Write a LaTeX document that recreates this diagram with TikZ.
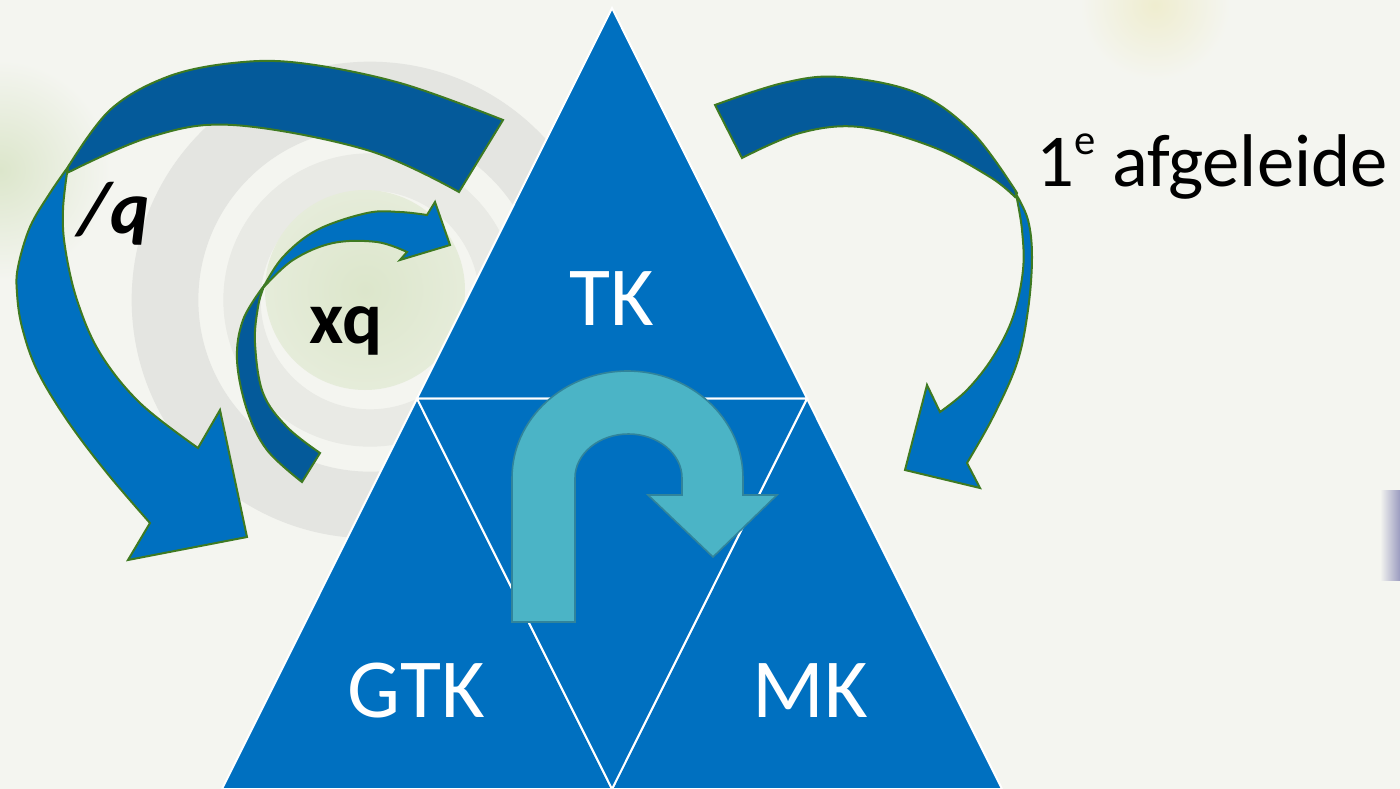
\documentclass[tikz,border=0pt]{standalone}
\usepackage{fontspec}
\setmainfont{Carlito}
\definecolor{bgc}{HTML}{F4F5F0}
\definecolor{triblue}{HTML}{0070C0}
\definecolor{darkband}{HTML}{045A9A}
\definecolor{outl}{HTML}{3E7A22}
\definecolor{uturn}{HTML}{4BB4C6}
\definecolor{uturnline}{HTML}{31849B}
\definecolor{palegreen}{HTML}{DCE6CB}
\definecolor{paleyellow}{HTML}{EFEDCF}
\definecolor{ringgrey}{HTML}{E4E5E1}
\begin{document}
\begin{tikzpicture}[x=0.75pt,y=-0.75pt,
  bandfront/.style={fill=triblue,draw=outl,line width=1.5pt,line join=miter},
  bandback/.style={fill=darkband,draw=outl,line width=1.5pt,line join=miter},
  tripart/.style={fill=triblue,draw=white,line width=1.5pt},
  lbl/.style={inner sep=0pt,anchor=base,text=white,font=\fontsize{63}{63}\selectfont},
  mathlbl/.style={inner sep=0pt,anchor=base west,text=black,font=\bfseries\fontsize{56}{56}\selectfont}]
% background
\fill[bgc] (0,0) rectangle (1400,789);
\useasboundingbox (0,0) rectangle (1400,789);
\shade[inner color=palegreen,outer color=bgc] (0,170) circle[radius=110];
\shade[inner color=paleyellow,outer color=bgc] (1155,5) circle[radius=75];
\draw[line width=50pt,ringgrey] (370,300) circle[radius=205];
\draw[line width=28pt,ringgrey!70!bgc] (370,300) circle[radius=128];
\shade[inner color=palegreen,outer color=palegreen!60!bgc] (365,290) circle[radius=100];
\shade[left color=bgc,right color=blue!25!gray!60!bgc] (1380,490) rectangle (1400,580);
% triangle
\coordinate (A) at (612,8);
\coordinate (B) at (222,789);
\coordinate (C) at (1002,789);
\coordinate (AB) at (417,398.5);
\coordinate (AC) at (807,398.5);
\coordinate (BC) at (612,789);
\filldraw[tripart] (A) -- (AB) -- (AC) -- cycle;
\filldraw[tripart] (AB) -- (B) -- (BC) -- cycle;
\filldraw[tripart] (AC) -- (BC) -- (C) -- cycle;
\filldraw[tripart] (AB) -- (AC) -- (BC) -- cycle;
\node[lbl] (tk) at (612,325) {TK};
\node[lbl] (gtk) at (416,717) {GTK};
\node[lbl] (mk) at (810,717) {MK};
% U-turn arrow
\filldraw[fill=uturn,draw=uturnline,line width=1.2pt] (512,622) -- (512,478)
  .. controls (512,418.9) and (563.7,371) .. (627.5,371)
  .. controls (691.3,371) and (743,418.9) .. (743,478)
  -- (743,495) -- (777,495) -- (713,557) -- (648,495) -- (682,495) -- (682,478)
  .. controls (682,453.7) and (658,434) .. (628.5,434)
  .. controls (599,434) and (575,453.7) .. (575,478)
  -- (575,622) -- cycle;
% /q arrow
\filldraw[bandback] plot[smooth,tension=0.6] coordinates {(68,167) (110,110) (167,77) (233,63) (300,63) (400,83) (503,120)}
  -- plot[smooth,tension=0.6] coordinates {(459,192) (367,150) (233,125) (150,137) (67,173)} -- cycle;
\filldraw[bandfront] plot[smooth,tension=0.6] coordinates {(68,167) (50,193) (30,227) (18,267) (17,293) (22,327) (37,370) (67,420) (107,473) (150,523)}
  -- (128,560) -- (247,537) -- (220,410) -- (198,448)
  -- plot[smooth,tension=0.6] coordinates {(198,448) (140,403) (100,353) (77,300) (65,247) (63,210) (67,173)} -- cycle;
% xq arrow
\filldraw[bandback] plot[smooth,tension=0.6] coordinates {(302,482) (267,450) (247,410) (237,360) (243,320) (263,287)}
  -- plot[smooth,tension=0.6] coordinates {(263,289) (258,307) (255,343) (263,393) (287,427) (320,453)} -- cycle;
\filldraw[bandfront] plot[smooth,tension=0.6] coordinates {(263,288) (283,257) (317,230) (367,213) (400,212) (427,215)}
  -- (435,202) -- (450,245) -- (400,260) -- (407,252)
  -- plot[smooth,tension=0.6] coordinates {(407,252) (377,242) (333,243) (293,260) (263,288)} -- cycle;
% right arrow
\filldraw[bandback] plot[smooth,tension=0.6] coordinates {(715,105) (783,83) (840,77) (917,93) (973,133) (1017,193)}
  -- plot[smooth,tension=0.6] coordinates {(1015,197) (990,177) (933,147) (860,127) (800,133) (742,158)} -- cycle;
\filldraw[bandfront] plot[smooth,tension=0.6] coordinates {(1016,194) (1028,220) (1032,257) (1028,310) (1017,363) (993,417) (967,463)}
  -- (980,488) -- (905,470) -- (927,385) -- (940,412)
  -- plot[smooth,tension=0.6] coordinates {(940,412) (967,390) (993,357) (1013,317) (1023,270) (1022,230) (1016,194)} -- cycle;
% labels
\node[mathlbl,font=\bfseries\itshape\fontsize{56}{56}\selectfont] (divq) at (78,233) {/q};
\node[mathlbl] (xq) at (309,343) {xq};
\node[inner sep=0pt,anchor=base west,font=\fontsize{56}{56}\selectfont] (afg) at (1036,186) {1\raisebox{0.42em}{\fontsize{32}{32}\selectfont e} afgeleide};
\end{tikzpicture}
\end{document}
